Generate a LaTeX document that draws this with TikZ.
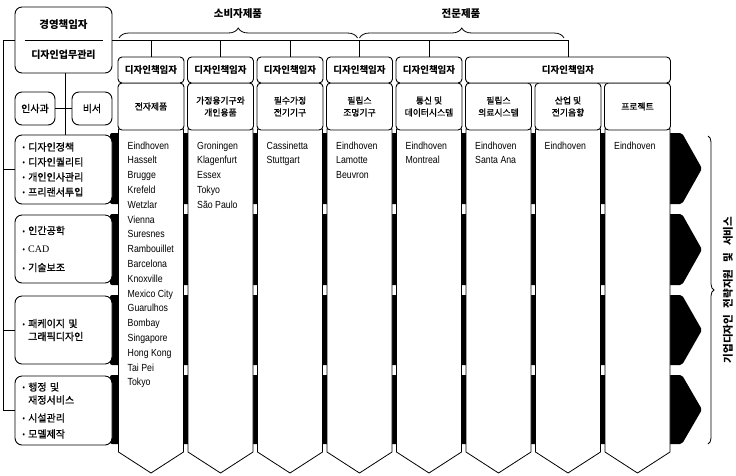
\documentclass[tikz,border=0pt]{standalone}
\usepackage{fontspec}
\setmainfont{Liberation Sans}[FakeStretch=0.85]
\newfontfamily\kr{Noto Sans CJK KR}
\newfontfamily\krm{Noto Sans CJK KR}[FakeBold=1]
\newfontfamily\lserif{Liberation Serif}
\usetikzlibrary{decorations.pathreplacing}
\tikzset{
 ln/.style={line width=0.8pt},
 rbox/.style={draw, line width=0.9pt, rounded corners=5pt, fill=white, inner sep=0pt},
 hdr/.style={rbox, rounded corners=4pt, minimum width=66pt, minimum height=26pt, font=\kr\bfseries\fontsize{9.5}{11}\selectfont},
 subbox/.style={rbox, rounded corners=4pt, minimum width=66pt, minimum height=47pt, align=center, font=\krm\fontsize{8.8}{12}\selectfont},
 grp/.style={rbox, rounded corners=7pt, minimum width=97pt, text width=82pt, align=left},
 lst/.style={anchor=north west, inner sep=0pt, align=left, font=\fontsize{10.3}{14.8}\selectfont},
 colshape/.style={draw, fill=white, line width=0.8pt},
 band/.style={fill=black, rounded corners=2pt},
 brc/.style={decorate, line width=0.8pt},
 lbl/.style={inner sep=0pt, font=\kr\bfseries\fontsize{10.5}{12}\selectfont},
}
\newcommand\bul{{\rmfamily\fontsize{8}{8}\selectfont •}\ }
\begin{document}
\begin{tikzpicture}[x=1pt,y=-1pt]
\fill[white] (0,0) rectangle (736,475);
\useasboundingbox (0,0) rectangle (736,475);

% black bands behind the columns
\foreach \t/\b in {133/204,214/285,295/365,375/444}
  \fill[band] (110,\t) -- (682,\t) -- (702,{(\t+\b)/2}) -- (682,\b) -- (110,\b) -- cycle;

% columns
\foreach \cx in {151,220.5,290,359.5,429,498.5,568,637.5}
  \draw[colshape] (\cx-32.5,129) -- (\cx+32.5,129) -- (\cx+32.5,452) -- (\cx,473) -- (\cx-32.5,452) -- cycle;

% column lists
\node[lst] (list1) at (127.5,141.5) {Eindhoven\\Hasselt\\Brugge\\Krefeld\\Wetzlar\\Vienna\\Suresnes\\Rambouillet\\Barcelona\\Knoxville\\Mexico City\\Guarulhos\\Bombay\\Singapore\\Hong Kong\\Tai Pei\\Tokyo};
\node[lst] (list2) at (197,141.5) {Groningen\\Klagenfurt\\Essex\\Tokyo\\São Paulo};
\node[lst] (list3) at (266.5,141.5) {Cassinetta\\Stuttgart};
\node[lst] (list4) at (336,141.5) {Eindhoven\\Lamotte\\Beuvron};
\node[lst] (list5) at (405.5,141.5) {Eindhoven\\Montreal};
\node[lst] (list6) at (475,141.5) {Eindhoven\\Santa Ana};
\node[lst] (list7) at (544.5,141.5) {Eindhoven};
\node[lst] (list8) at (614,141.5) {Eindhoven};

% sub boxes
\node[subbox] (s1) at (151,106.5) {전자제품};
\node[subbox] (s2) at (220.5,106.5) {가정용기구와\\개인용품};
\node[subbox] (s3) at (290,106.5) {필수가정\\전기기구};
\node[subbox] (s4) at (359.5,106.5) {필립스\\조명기구};
\node[subbox] (s5) at (429,106.5) {통신 및\\데이터시스템};
\node[subbox] (s6) at (498.5,106.5) {필립스\\의료시스템};
\node[subbox] (s7) at (568,106.5) {산업 및\\전기음향};
\node[subbox] (s8) at (637.5,106.5) {프로젝트};

% headers
\node[hdr] (h1) at (151,70) {디자인책임자};
\node[hdr] (h2) at (220.5,70) {디자인책임자};
\node[hdr] (h3) at (290,70) {디자인책임자};
\node[hdr] (h4) at (359.5,70) {디자인책임자};
\node[hdr] (h5) at (429,70) {디자인책임자};
\node[hdr, minimum width=205pt] (hw) at (568,70) {디자인책임자};

% top management box
\node[rbox, rounded corners=7pt, minimum width=97pt, minimum height=66pt] (top) at (63.5,40) {};
\node[lbl] (topa) at (63.5,24.5) {경영책임자};
\node[lbl, font=\kr\bfseries\fontsize{10}{12}\selectfont] (topb) at (63.5,55) {디자인업무관리};
\draw[ln] (top.west) ++(10,0) coordinate (sepL) -- ([xshift=-9pt]top.east) coordinate (sepR);

% staff boxes
\node[rbox, rounded corners=7pt, minimum width=40pt, minimum height=33pt, font=\krm\fontsize{10}{12}\selectfont] (insa) at (35,108.5) {인사과};
\node[rbox, rounded corners=7pt, minimum width=40pt, minimum height=33pt, font=\krm\fontsize{10}{12}\selectfont] (biseo) at (92,108.5) {비서};

% left group boxes
\node[grp, minimum height=69pt, font=\krm\fontsize{10}{15}\selectfont] (g1) at (63.5,169.5)
  {\bul 디자인정책\\\bul 디자인퀄리티\\\bul 개인인사관리\\\bul 프리랜서투입};
\node[grp, minimum height=68pt, font=\krm\fontsize{10}{18.5}\selectfont] (g2) at (63.5,249)
  {\bul 인간공학\\\bul {\lserif CAD}\\\bul 기술보조};
\node[grp, minimum height=68pt, font=\krm\fontsize{10}{13}\selectfont] (g3) at (63.5,330)
  {\bul 패케이지 및\\\phantom{\bul}그래픽디자인};
\node[grp, minimum height=69pt, font=\krm\fontsize{10}{13}\selectfont] (g4) at (63.5,410.5)
  {\bul 행정 및\\\phantom{\bul}재정서비스\\[5pt]\bul 시설관리\\[3pt]\bul 모델제작};

% connectors
\coordinate (LT) at (3.5,40);
\coordinate (RT) at (568,40);
\coordinate (V) at (65,0);
\draw[ln] (LT) -- (top.west);
\draw[ln] (top.east) -- (RT) -- (hw.north);
\foreach \n in {h1,h2,h3,h4,h5} \draw[ln] (\n.north) -- (\n.north |- RT);
\draw[ln] (LT) -- (LT |- g4.west) -- (g4.west);
\draw[ln] (LT |- g1.west) -- (g1.west);
\draw[ln] (LT |- g3.west) -- (g3.west);
\draw[ln] (top.south -| V) -- (g1.north -| V);
\draw[ln] (insa.east) -- (biseo.west);

% top braces and labels
\draw[brc, decoration={brace, amplitude=10pt}] (119,38) -- (357.5,38);
\draw[brc, decoration={brace, amplitude=10pt}] (359.5,38) -- (564,38);
\node[lbl] (cons) at (238,14) {소비자제품};
\node[lbl] (prof) at (461,14) {전문제품};

% right brace and vertical label
\draw[brc, decoration={brace, amplitude=6pt}] (708,136) -- (708,444);
\node[lbl, rotate=90] (side) at (728,290) {기업디자인\hspace{7pt}전략지원\hspace{7pt}및\hspace{7pt}서비스};
\end{tikzpicture}
\end{document}
